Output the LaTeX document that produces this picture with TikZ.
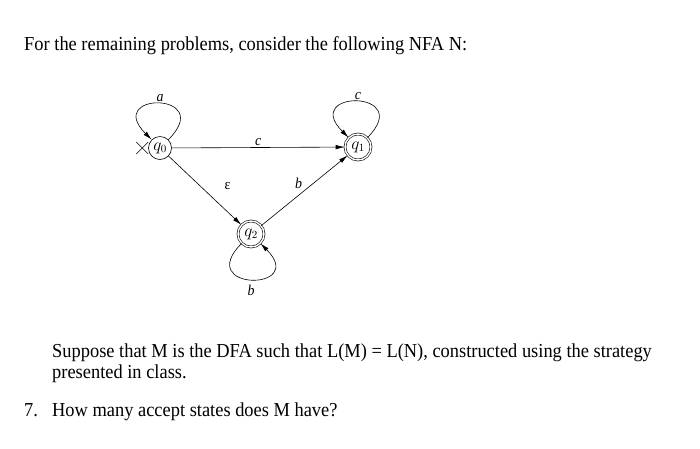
\documentclass[tikz,border=0pt]{standalone}
\usepackage{fontspec}
\setmainfont{Liberation Serif}[FakeStretch=0.93]
\usetikzlibrary{arrows.meta, positioning}

\begin{document}
\begin{tikzpicture}[
    x=1pt, y=1pt,
    every node/.style={font=\fontsize{16}{18}\selectfont},
    nfa-state/.style={circle, draw, line width=0.6pt,
        minimum size=23pt, inner sep=0pt},
    nfa-accept/.style={nfa-state, double, double distance=1.4pt,
        minimum size=26pt},
    nfa-arrow/.style={-{Latex[length=9pt, width=4.5pt]}, line width=0.6pt},
    nfa-loop/.style={nfa-arrow, loop, min distance=68pt},
    nfa-label/.style={font=\fontsize{15}{17}\selectfont\itshape, inner sep=2pt},
    prose/.style={anchor=base west, inner sep=0pt,
        font=\fontsize{19.8}{23}\selectfont},
]
    \useasboundingbox (0,0) rectangle (700,-448);

    % ---- TEXT: heading ----
    \node[prose] (heading) at (24,-50)
        {For the remaining problems, consider the following NFA N:};

    % ---- NODES: states ----
    \node[nfa-state]  (q0) at (160,-148) {$q_0$};
    \node[nfa-accept] (q1) at (358,-147) {$q_1$};
    \node[nfa-accept] (q2) at (251,-234) {$q_2$};

    % start mark
    \coordinate (start) at ([xshift=-6pt]q0.west);
    \draw[line width=0.6pt] ([shift={(-6,6)}]start) -- ([shift={(6,-6)}]start);
    \draw[line width=0.6pt] ([shift={(-6,-6)}]start) -- ([shift={(6,6)}]start);

    % ---- ARROWS: transitions ----
    \draw[nfa-arrow] (q0) -- node[nfa-label, pos=0.6,
        above right=5pt and 10pt] {\upshape ε} (q2);
    \draw[nfa-arrow] (q0) -- node[nfa-label, above] {c} (q1);
    \draw[nfa-arrow] (q2) -- node[nfa-label, above left=0pt and 0pt] {b} (q1);

    % ---- ARROWS: self loops ----
    \draw[nfa-loop] (q0) to[out=45, in=135]
        node[nfa-label, above] {a} (q0);
    \draw[nfa-loop] (q1) to[out=45, in=135]
        node[nfa-label, above] {c} (q1);
    \draw[nfa-loop] (q2) to[out=-135, in=-45]
        node[nfa-label, below, inner sep=5pt] {b} (q2);

    % ---- TEXT: question ----
    \node[prose] (suppose) at (52,-357)
        {Suppose that M is the DFA such that L(M) = L(N), constructed using the strategy};
    \node[prose] (suppose2) at (52,-378) {presented in class.};
    \node[prose] (qnum)  at (24,-416) {7.};
    \node[prose] (qtext) at (52,-416) {How many accept states does M have?};
\end{tikzpicture}
\end{document}
